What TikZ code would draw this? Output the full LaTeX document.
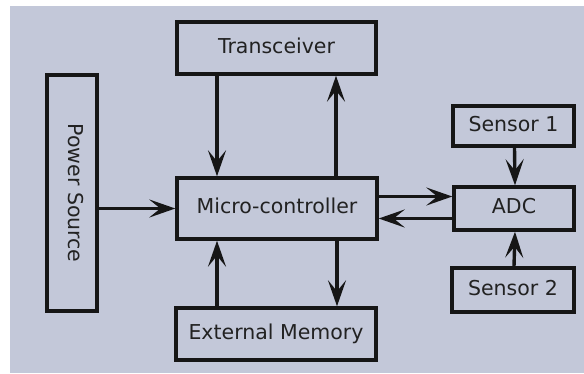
\documentclass[tikz,border=0pt]{standalone}
\usepackage{fontspec}
\setmainfont{DejaVu Sans}
\usetikzlibrary{arrows.meta}
\definecolor{panel}{RGB}{195,200,217}
\definecolor{ink}{RGB}{22,22,22}
\definecolor{label}{RGB}{34,34,34}
\begin{document}
\begin{tikzpicture}[x=1pt,y=-1pt,
  block/.style={draw=ink, line width=3.4pt, fill=panel, text=label,
    font=\fontsize{20.5}{22}\selectfont, inner sep=0pt,
    text height=1.0em, text depth=0pt},
  arr/.style={draw=ink, line width=3.4pt,
    -{Stealth[length=26pt, width=18pt, inset=11pt]}}]
  % page and panel
  \useasboundingbox (0,0) rectangle (584,373);
  \fill[white] (0,0) rectangle (584,373);
  \fill[panel] (10,6) rectangle (584,373);

  % blocks
  \node[block, minimum width=199pt, minimum height=52pt] (trx) at (276.5,48) {Transceiver};
  \node[block, minimum width=200pt, minimum height=61pt] (mcu) at (277,208.5) {Micro-controller};
  \node[block, minimum width=200pt, minimum height=52pt] (mem) at (276,334) {External Memory};
  \node[block, minimum width=236pt, minimum height=50pt, rotate=-90,
        text height=0.73em] (pwr) at (72,193) {Power Source};
  \node[block, minimum width=121pt, minimum height=40pt] (s1) at (513.5,126) {Sensor 1};
  \node[block, minimum width=120pt, minimum height=43pt] (adc) at (514,208.5) {ADC};
  \node[block, minimum width=122pt, minimum height=44pt] (s2) at (513,290) {Sensor 2};

  % attachment points on the micro-controller
  \coordinate (mtl) at ([xshift=-60pt]mcu.north);
  \coordinate (mtr) at ([xshift=59pt]mcu.north);
  \coordinate (mbl) at ([xshift=-60pt]mcu.south);
  \coordinate (mbr) at ([xshift=60pt]mcu.south);
  \coordinate (mru) at ([yshift=12pt]mcu.east);
  \coordinate (mrd) at ([yshift=-10pt]mcu.east);

  % connectors
  \draw[arr] (mtl |- trx.south) -- (mtl);
  \draw[arr] (mtr) -- (mtr |- trx.south);
  \draw[arr] (mbl |- mem.north) -- (mbl);
  \draw[arr] (mbr) -- (mbr |- mem.north);
  \draw[arr] (pwr.north |- mcu.west) -- (mcu.west);
  \draw[arr] (mru) -- (mru -| adc.west);
  \draw[arr] (mrd -| adc.west) -- (mrd);
  \draw[arr] ([xshift=1pt]s1.south) -- ([xshift=1pt]adc.north);
  \draw[arr] ([xshift=1pt]s2.north) -- ([xshift=1pt]adc.south);
\end{tikzpicture}
\end{document}
